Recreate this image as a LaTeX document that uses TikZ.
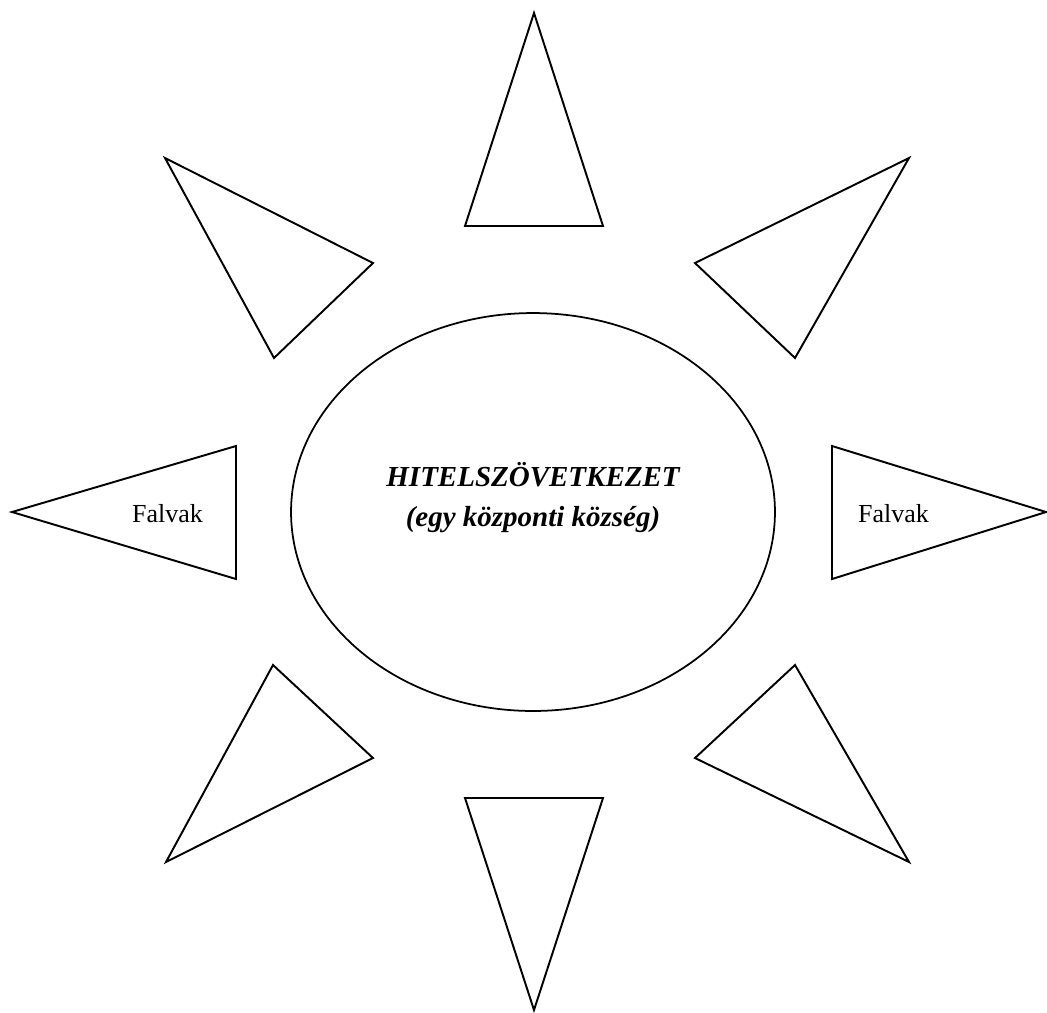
\documentclass[tikz,border=0pt]{standalone}
\usepackage{fontspec}
\setmainfont{Liberation Serif}
\usetikzlibrary{shapes.geometric}

\tikzset{
    sugar/.style={draw, line width=1.1pt, line join=miter},
    kor/.style={ellipse, draw, line width=1pt, minimum width=9.68cm, minimum height=7.96cm, inner sep=0pt},
    falu/.style={font=\fontsize{14.8}{17}\selectfont, inner sep=0pt, anchor=base},
    cim/.style={font=\fontsize{16.5}{22.8}\selectfont\bfseries\itshape, align=center, inner sep=0pt}
}

\begin{document}
\begin{tikzpicture}[x=0.02cm, y=-0.02cm]
    \useasboundingbox (0,0) rectangle (1047,1012);

    % a nyolc sugar
    \foreach \ax/\ay/\bx/\by/\cx/\cy in {534/13/465/226/603/226,
                                         909/158/695/263/795/358,
                                         1046/512/832/446/832/579,
                                         909/862/695/758/795/665,
                                         534/1010/465/798/603/798,
                                         166/862/373/758/273/665,
                                         12/512/236/446/236/579,
                                         165/158/373/263/274/358} {
        \draw[sugar] (\ax,\ay) -- (\bx,\by) -- (\cx,\cy) -- cycle;
    }

    \node[kor] (kozpont) at (533,512) {};
    \node[cim] (szovetkezet) at (533,498) {HITELSZÖVETKEZET\\(egy központi község)};

    \node[falu] (balfalvak) at (167.5,522) {Falvak};
    \node[falu] (jobbfalvak) at (893.5,522) {Falvak};
\end{tikzpicture}
\end{document}
